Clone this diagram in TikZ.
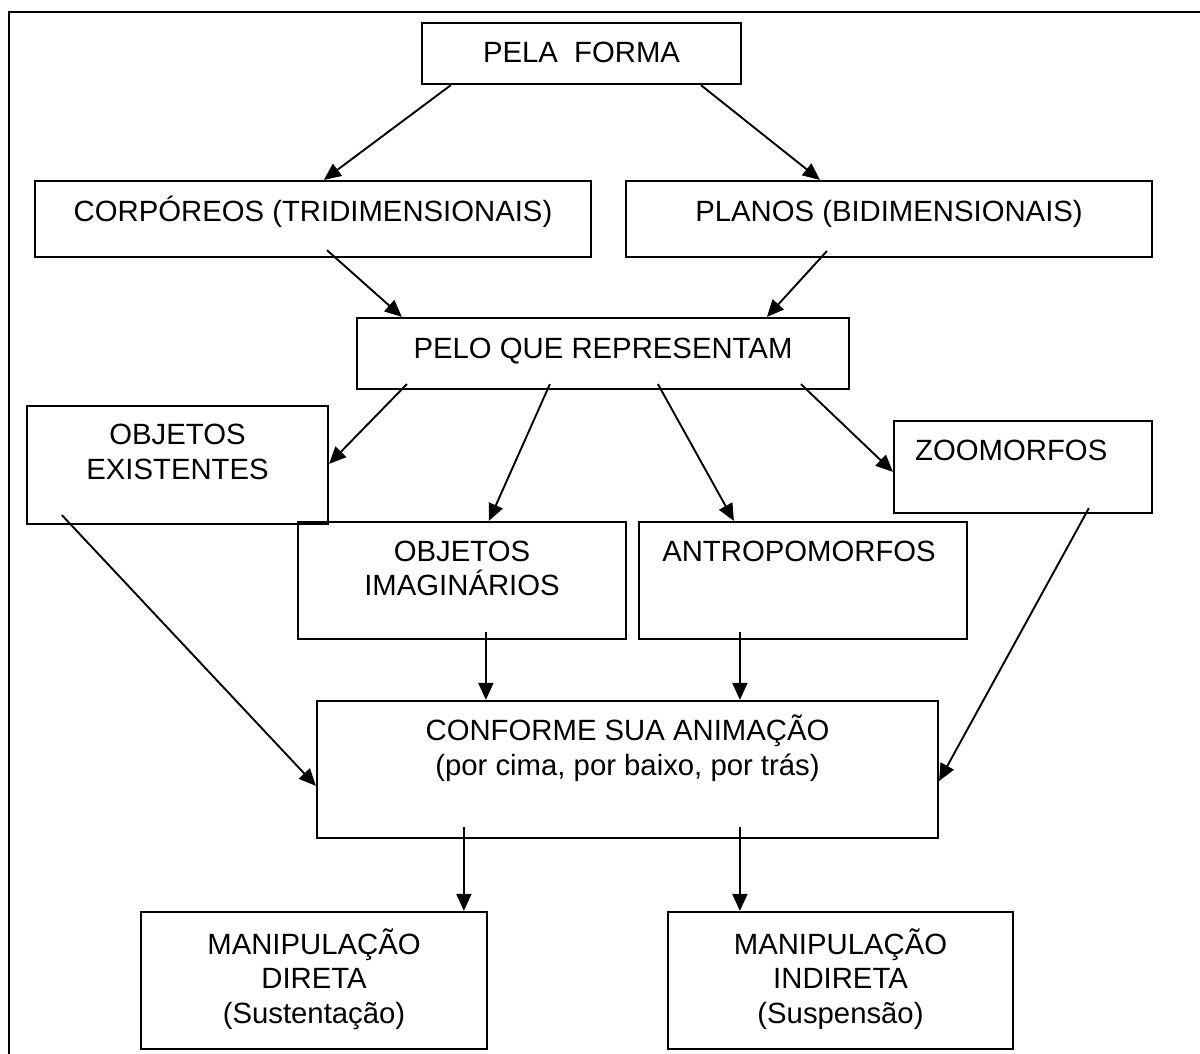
\documentclass[tikz,border=0pt]{standalone}
\usepackage{fontspec}
\setmainfont{Liberation Sans}
\usetikzlibrary{arrows.meta}
\begin{document}
\begin{tikzpicture}[x=1pt,y=-1pt,
  box/.style={draw, line width=2.2pt, rectangle, inner sep=0pt},
  txt/.style={font=\fontsize{29.3pt}{35pt}\selectfont, inner sep=0pt, anchor=base},
  arr/.style={line width=1.9pt, -{Triangle[length=17pt,width=15pt]}},
  frame/.style={line width=2.6pt}]
\useasboundingbox (0,0) rectangle (1200,1054);
\draw[frame] (1200,12) -- (9,12) -- (9,1054);

% boxes
\node[box, minimum width=319pt, minimum height=61pt]  (pf)  at (581.5,53.5) {};
\node[box, minimum width=556pt, minimum height=76pt]  (cor) at (313,219) {};
\node[box, minimum width=526pt, minimum height=76pt]  (pla) at (889,219) {};
\node[box, minimum width=492pt, minimum height=71pt]  (pq)  at (603,353.5) {};
\node[box, minimum width=301pt, minimum height=118pt] (oe)  at (177.5,465) {};
\node[box, minimum width=258pt, minimum height=92pt]  (zoo) at (1023,467) {};
\node[box, minimum width=328pt, minimum height=117pt] (oi)  at (462,580.5) {};
\node[box, minimum width=328pt, minimum height=117pt] (an)  at (803,580.5) {};
\node[box, minimum width=621pt, minimum height=137pt] (cf)  at (627.5,769.5) {};
\node[box, minimum width=346pt, minimum height=137pt] (md)  at (314,980.5) {};
\node[box, minimum width=345pt, minimum height=137pt] (mi)  at (840.5,980.5) {};

% texts
\node[txt] (pfT)  at (581.5,63) {PELA~~FORMA};
\node[txt] (corT) at (313,221) {CORPÓREOS (TRIDIMENSIONAIS)};
\node[txt] (plaT) at (889,221) {PLANOS (BIDIMENSIONAIS)};
\node[txt] (pqT)  at (603,358) {PELO QUE REPRESENTAM};
\node[txt] (oeT1) at (177.5,444) {OBJETOS};
\node[txt] (oeT2) at (177.5,479) {EXISTENTES};
\node[txt, anchor=base west] (zooT) at (915,460) {ZOOMORFOS};
\node[txt] (oiT1) at (462,561) {OBJETOS};
\node[txt] (oiT2) at (462,595) {IMAGINÁRIOS};
\node[txt] (anT)  at (799,561) {ANTROPOMORFOS};
\node[txt] (cfT1) at (627.5,740) {CONFORME SUA ANIMAÇÃO};
\node[txt] (cfT2) at (627.5,775) {(por cima, por baixo, por trás)};
\node[txt] (mdT1) at (314,954) {MANIPULAÇÃO};
\node[txt] (mdT2) at (314,988) {DIRETA};
\node[txt] (mdT3) at (314,1023) {(Sustentação)};
\node[txt] (miT1) at (840.5,954) {MANIPULAÇÃO};
\node[txt] (miT2) at (840.5,988) {INDIRETA};
\node[txt] (miT3) at (840.5,1023) {(Suspensão)};

% connectors
\draw[arr] ([shift={(30,0)}]pf.south west)   -- ([shift={(290,0)}]cor.north west);
\draw[arr] ([shift={(280,0)}]pf.south west)  -- ([shift={(195,0)}]pla.north west);
\draw[arr] ([shift={(293,-8)}]cor.south west) -- ([shift={(46,0)}]pq.north west);
\draw[arr] ([shift={(202,-7)}]pla.south west) -- ([shift={(411,0)}]pq.north west);
\draw[arr] ([shift={(51,-6)}]pq.south west)  -- ([shift={(0,59)}]oe.north east);
\draw[arr] ([shift={(194,-6)}]pq.south west) -- ([shift={(192,0)}]oi.north west);
\draw[arr] ([shift={(302,-6)}]pq.south west) -- ([shift={(96,0)}]an.north west);
\draw[arr] ([shift={(445,-6)}]pq.south west) -- ([shift={(0,52)}]zoo.north west);
\draw[arr] ([shift={(36,-10)}]oe.south west) -- ([shift={(0,86)}]cf.north west);
\draw[arr] ([shift={(196,-6)}]zoo.south west) -- ([shift={(0,81)}]cf.north east);
\draw[arr] ([shift={(189,-8)}]oi.south west) -- ([shift={(170,0)}]cf.north west);
\draw[arr] ([shift={(102,-8)}]an.south west) -- ([shift={(424,0)}]cf.north west);
\draw[arr] ([shift={(148,-12)}]cf.south west) -- ([shift={(324,0)}]md.north west);
\draw[arr] ([shift={(424,-12)}]cf.south west) -- ([shift={(73,0)}]mi.north west);
\end{tikzpicture}
\end{document}
